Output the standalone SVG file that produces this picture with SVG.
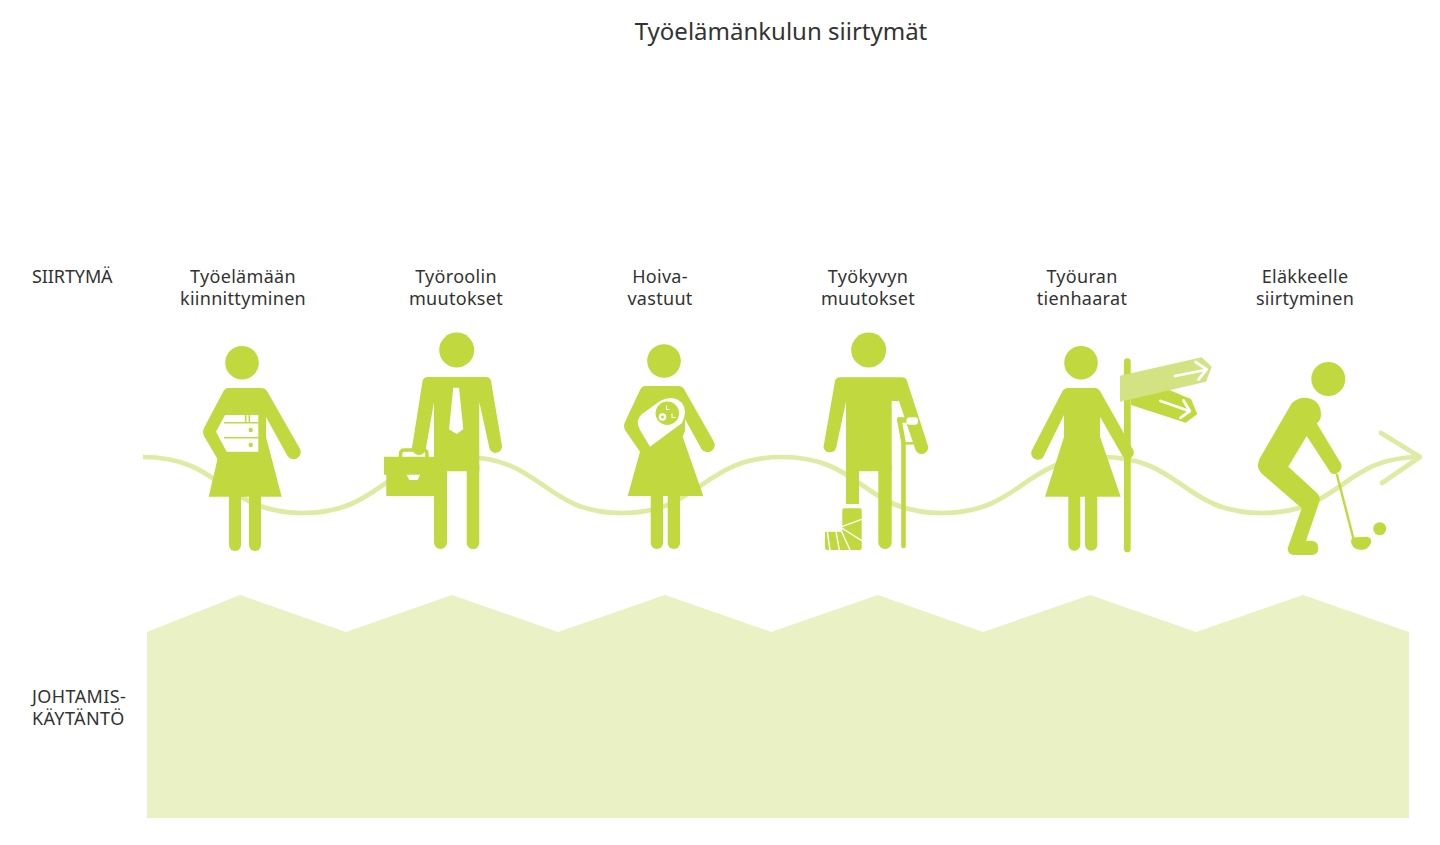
<svg xmlns="http://www.w3.org/2000/svg" width="1440" height="845" viewBox="0 0 1440 845">
<style>
text{font-family:"Noto Sans","Liberation Sans",sans-serif;fill:#333;font-size:18px;letter-spacing:.3px}
.c{text-anchor:middle}
.g{fill:#c1d93f}
.gs{stroke:#c1d93f;fill:none;stroke-linecap:round;stroke-linejoin:round}
.w{fill:#fff}
.ws{stroke:#fff;fill:none;stroke-linecap:round;stroke-linejoin:round}
</style>
<rect width="1440" height="845" fill="#fff"/>
<text x="781" y="40" class="c" style="font-size:24px;letter-spacing:0">Työelämänkulun siirtymät</text>
<text x="32" y="283" style="letter-spacing:-.1px">SIIRTYMÄ</text>
<text x="32" y="703" style="letter-spacing:.4px">JOHTAMIS-</text>
<text x="32" y="725" style="letter-spacing:.4px">KÄYTÄNTÖ</text>
<polygon id="band" fill="#e9f1c5" points="147,632 240,595 346,632 452,595 558,632 665,595 771,632 878,595 983,632 1090,595 1196,632 1303,595 1409,632 1409,818 147,818"/>
<g id="connectors" fill="none" stroke="#dfeaa3" stroke-width="4.700" stroke-linecap="round" stroke-linejoin="round">
<path stroke-linecap="butt" d="M143 457C223 457 223 513 303 513S383 457 463 457S543 513 622 513S702 457 782 457S862 513 942 513S1022 457 1102 457S1182 513 1262 513S1342 457 1420 457"/>
<path d="M1381 433L1420 457L1382 483"/>
</g>
<g id="node1">
<text x="243" y="283" class="c">Työelämään</text><text x="243" y="305" class="c">kiinnittyminen</text>
<circle class="g" cx="242" cy="362.700" r="16.800"/>
<path class="g" d="M228 388H261Q265 388 267 391L299.500 448A6.700 6.700 0 0 1 287.500 456L266 417V437L281.700 496.700H208.700L217.500 459L204 436Q202 432 204 428L223 392Q225 388 228 388Z"/>
<rect class="g" x="229" y="480" width="12" height="71" rx="6"/><rect class="g" x="249" y="480" width="12" height="71" rx="6"/>
<polygon class="w" points="225,415 258.300,415 258.300,451.700 226.700,451.700 216,431.700"/>
<path class="gs" style="stroke-linecap:butt" stroke-width="1.500" d="M224 422.700H258.300M224 437.700H258.300M245.700 415V422.700M249.300 415V422.700"/>
<circle class="g" cx="250.700" cy="430" r="2.200"/><circle class="g" cx="250.700" cy="445" r="2.200"/>
</g>
<g id="node2">
<text x="456" y="283" class="c">Työroolin</text><text x="456" y="305" class="c">muutokset</text>
<circle class="g" cx="456.700" cy="350" r="17.500"/>
<path class="gs" stroke-width="3.500" d="M400.500 458V454Q400.500 450 404.500 450H423Q427 450 427 454V458"/>
<path class="g" d="M428 377H486Q490 377 491 381L502 446A6.400 6.400 0 0 1 489.300 447.500L479.300 402V471.300H434V402L426 448H412L422.500 381Q423.500 377 428 377Z"/>
<circle class="g" cx="419" cy="448" r="7"/>
<rect class="g" x="434" y="460" width="13" height="89" rx="6.500"/><rect class="g" x="466.700" y="460" width="12.600" height="89" rx="6.300"/>
<polygon class="g" points="384,456.700 434,456.700 434,496 386.300,496 386.300,474.700 384,474.700"/>
<polygon class="w" points="406.700,474.700 420,474.700 417.700,480 409.300,480"/>
<polygon class="w" points="453.300,387.700 459,387.700 463.300,429.300 456.700,434 449,429.300"/>
</g>
<g id="node3">
<text x="660" y="283" class="c">Hoiva-</text><text x="660" y="305" class="c">vastuut</text>
<circle class="g" cx="664" cy="361" r="16.800"/>
<path class="g" d="M645 386H679Q682 386 684 389L713.500 441A6.800 6.800 0 0 1 701.500 449L685 419V431L682.700 436.700L703.300 496H627.700L640 451.700L625 430Q623 426 625 422L640 390Q642 386 645 386Z"/>
<rect class="g" x="650.700" y="480" width="12.300" height="69" rx="6"/><rect class="g" x="667.700" y="480" width="12.300" height="69" rx="6"/>
<path class="w" d="M650 446.700L639.500 429Q635 420 642 414L660 401Q673 394 682 403Q688 411 682 423Z"/>
<circle class="g" cx="667.300" cy="413.300" r="11.700"/>
<circle cx="662.500" cy="417" r="2.600" fill="none" stroke="#fff" stroke-width="2.300"/>
<path class="ws" stroke-width="1.100" d="M666.500 406V409.500H669M672 414V417.500H675"/>
</g>
<g id="node4">
<text x="868" y="283" class="c">Työkyvyn</text><text x="868" y="305" class="c">muutokset</text>
<circle class="g" cx="868.700" cy="350" r="17.500"/>
<path class="g" d="M840 377.300H902Q906 377.300 907 381L927.700 445A6.400 6.400 0 0 1 915.500 450L899 401H891.700V471.300H846V401.700L836.300 447A6.500 6.500 0 0 1 823.500 447L835 381Q836 377.300 840 377.300Z"/>
<rect class="g" x="846" y="460" width="13" height="44"/>
<rect class="g" x="878.300" y="460" width="13.400" height="89" rx="6.700"/>
<path class="gs" stroke-width="4.600" d="M899.300 419.500L903.500 442.500V546"/>
<path class="gs" stroke-width="2.500" style="stroke-linecap:butt" d="M903 443.300H916"/>
<rect class="g" x="897" y="417.300" width="10" height="5.500" rx="2"/>
<rect class="w" x="906.500" y="417.300" width="11.500" height="7.500" rx="3"/>
<path class="g" d="M844.300 508.300H859.700Q861.700 508.300 861.700 510.300V548Q861.700 550 859.700 550H827Q825 550 825 548V531.700H842.300V510.300Q842.300 508.300 844.300 508.300Z"/>
<path class="ws" style="stroke-linecap:butt" stroke-width="1.400" d="M841.700 526.700L861.700 519.300M841.700 528L861.700 540.700M841.700 531.700L850 550M836 531.700L839.300 550M827.300 531.700L830 550"/>
</g>
<g id="node5">
<text x="1082" y="283" class="c">Työuran</text><text x="1082" y="305" class="c">tienhaarat</text>
<circle class="g" cx="1081" cy="362.700" r="16.800"/>
<rect class="g" x="1124" y="358.300" width="6.700" height="194" rx="3.350"/>
<path class="g" d="M1068 388H1095Q1098 388 1100 391L1133.300 450A6.200 6.200 0 0 1 1123 456.700L1100 416.700V436.700L1120.700 496.700H1045L1064 436.700V415L1043.300 457A6.700 6.700 0 0 1 1031.500 451L1062 392Q1064 388 1068 388Z"/>
<rect class="g" x="1068.300" y="480" width="12" height="70.700" rx="6"/><rect class="g" x="1085" y="480" width="12.300" height="70.700" rx="6"/>
<polygon class="g" points="1131,395 1166.700,389 1191,399 1197.300,414 1185.700,422.700 1131,405"/>
<polygon fill="#d3e384" points="1120,375.700 1201.700,357.300 1211.700,366.700 1206,381.700 1120,401.700"/>
<path class="ws" stroke-width="2.800" d="M1175 376L1205 370M1195.500 362L1206.700 369.300L1198.500 379.500"/>
<path class="ws" stroke-width="2.800" d="M1160.500 401L1189.300 411M1183.500 400.500L1189.800 411L1180.500 417.800"/>
</g>
<g id="node6">
<text x="1305" y="283" class="c">Eläkkeelle</text><text x="1305" y="305" class="c">siirtyminen</text>
<circle class="g" cx="1328.300" cy="379" r="17"/>
<path class="g" d="M1291.700 403.300Q1297 397.700 1305 397.700Q1321 399 1321 415Q1321 420 1316.700 423.300L1341.200 464Q1343 470 1336 474Q1331 474 1330 471.700L1306.700 436L1288.300 466.700L1317 493Q1321 497 1319.300 502L1306 540.700H1311.700Q1318.300 541.500 1318.300 548.300Q1318.300 555 1311.700 555H1293.300Q1287.700 554.500 1287.700 548.300L1301.700 508.300L1263.300 475Q1256.500 469 1258.300 463.300Q1259 458.500 1261.700 455Z"/>
<path class="gs" stroke-width="2.400" d="M1337 475L1353.300 538"/>
<path class="g" d="M1352 537.500L1367 536.700Q1371.500 537.500 1371.200 542.300Q1369 549.500 1361.700 550Q1352 549.500 1351 541.700Z"/>
<circle class="g" cx="1379.700" cy="528.700" r="6.500"/>
</g>
</svg>
